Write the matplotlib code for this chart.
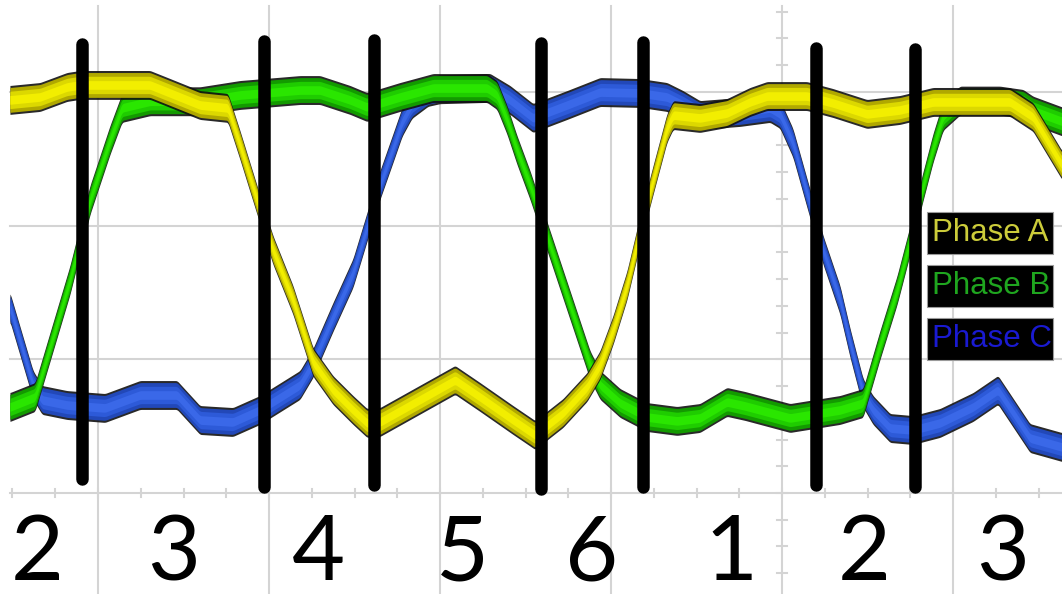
import numpy as np
import matplotlib
matplotlib.use("Agg")
import matplotlib.pyplot as plt

# ---- data (time in divisions, voltage in divisions) ----
phase_a_t = [-0.515, -0.339, -0.181, -0.105, 0.304, 0.421, 0.596, 0.760, 0.830, 0.930,
             1.023, 1.140, 1.257, 1.374, 1.491, 1.573, 1.649, 2.088, 2.234, 2.427,
             2.556, 2.719, 2.860, 2.936, 3.012, 3.094, 3.170, 3.246, 3.327, 3.363,
             3.520, 3.678, 3.813, 3.912, 4.146, 4.298, 4.497, 4.690, 4.883, 5.333,
             5.468, 5.637]
phase_a_v = [2.940, 2.962, 3.037, 3.052, 3.052, 2.992, 2.902, 2.880, 2.603, 2.191,
             1.818, 1.444, 0.980, 0.770, 0.621, 0.524, 0.531, 0.845, 0.718, 0.546,
             0.434, 0.598, 0.793, 0.957, 1.219, 1.556, 1.967, 2.341, 2.730, 2.827,
             2.805, 2.842, 2.925, 2.969, 2.969, 2.917, 2.835, 2.865, 2.925, 2.925,
             2.812, 2.453]

phase_b_t = [-0.515, -0.368, -0.164, -0.047, 0.070, 0.140, 0.304, 0.596, 0.696, 0.830,
             1.181, 1.298, 1.474, 1.573, 1.766, 1.959, 2.275, 2.333, 2.392, 2.450,
             2.526, 2.643, 2.760, 2.877, 2.936, 3.053, 3.211, 3.386, 3.520, 3.678,
             3.784, 4.047, 4.339, 4.474, 4.573, 4.673, 4.749, 4.819, 4.883, 4.942,
             5.041, 5.275, 5.410, 5.468, 5.637]
phase_b_v = [0.643, 0.718, 1.593, 2.191, 2.640, 2.880, 2.930, 2.930, 2.950, 2.977,
             3.014, 3.014, 2.940, 2.887, 2.962, 3.029, 3.029, 2.977, 2.790, 2.566,
             2.304, 1.855, 1.406, 0.957, 0.808, 0.673, 0.568, 0.539, 0.561, 0.681,
             0.651, 0.561, 0.621, 0.673, 1.107, 1.518, 1.892, 2.266, 2.580, 2.820,
             2.935, 2.935, 2.910, 2.860, 2.780]

phase_c_t = [-0.515, -0.380, -0.327, -0.181, 0.041, 0.246, 0.462, 0.596, 0.789, 0.947,
             1.181, 1.257, 1.374, 1.491, 1.573, 1.649, 1.725, 1.778, 1.836, 1.930,
             2.000, 2.292, 2.409, 2.544, 2.743, 2.936, 3.170, 3.327, 3.421, 3.520,
             3.754, 3.930, 3.988, 4.064, 4.146, 4.240, 4.339, 4.398, 4.474, 4.532,
             4.632, 4.766, 4.924, 5.117, 5.263, 5.450, 5.637]
phase_c_v = [1.391, 0.808, 0.696, 0.658, 0.636, 0.733, 0.733, 0.546, 0.531, 0.621,
             0.808, 0.972, 1.316, 1.645, 1.990, 2.304, 2.580, 2.775, 2.910, 3.000,
             3.020, 3.030, 2.940, 2.805, 2.902, 2.999, 2.992, 2.962, 2.902, 2.827,
             2.850, 2.880, 2.835, 2.618, 2.244, 1.818, 1.444, 1.122, 0.748, 0.621,
             0.486, 0.471, 0.524, 0.643, 0.770, 0.411, 0.344]

# commutation markers
bar_t = [-0.094, 0.971, 1.614, 2.591, 3.187, 4.199, 4.778]
bar_top = [3.358, 3.381, 3.388, 3.366, 3.373, 3.328, 3.321]
bar_bottom = [0.105, 0.045, 0.060, 0.030, 0.045, 0.060, 0.045]

# sector labels
sector_labels = ["2", "3", "4", "5", "6", "1", "2", "3"]
sector_t = [-0.357, 0.444, 1.287, 2.129, 2.889, 3.702, 4.480, 5.292]

legend_names = ["Phase A", "Phase B", "Phase C"]
legend_colors = ["#cccc3a", "#1fa51f", "#1a1ad0"]

# ---- figure ----
fig = plt.figure(figsize=(10.62, 5.94), dpi=100)
ax = fig.add_axes([0, 0, 1, 1])
XMIN, XMAX = -98 / 171, (1062 - 98) / 171
YMIN, YMAX = -(594 - 493) / 133.7, 493 / 133.7
ax.set_xlim(XMIN, XMAX)
ax.set_ylim(YMIN, YMAX)
ax.axis("off")

LEFT = -0.515
TOP = 3.64
grid_c = "#d4d4d4"
for gx in [0, 1, 2, 3, 4, 5]:
    ax.plot([gx, gx], [YMIN, TOP], color=grid_c, lw=1.5, zorder=1)
for gy in [0, 1, 2, 3]:
    ax.plot([LEFT, XMAX], [gy, gy], color=grid_c, lw=1.5, zorder=1)
for tx in np.arange(-0.5, 5.7, 0.25):
    ax.plot([tx, tx], [-0.032, 0.032], color=grid_c, lw=1.5, zorder=1)
for ty in np.arange(-0.6, 3.65, 0.2):
    ax.plot([4 - 0.03, 4 + 0.03], [ty, ty], color=grid_c, lw=1.5, zorder=1)

tt = np.linspace(LEFT, XMAX, 4000)


def smooth(y, n=13):
    k = np.ones(n) / n
    yp = np.pad(y, n // 2, mode="edge")
    return np.convolve(yp, k, mode="valid")


def trace(t, v, c_edge, c_mid, c_hi, z):
    y = smooth(np.interp(tt, t, v))
    h = 0.108
    ax.fill_between(tt, y - h, y + h, color="#111111", lw=0, zorder=z, alpha=0.9)
    ax.fill_between(tt, y - 0.86 * h, y + 0.86 * h, color=c_edge, lw=0, zorder=z)
    ax.fill_between(tt, y - 0.6 * h, y + 0.6 * h, color=c_mid, lw=0, zorder=z)
    ax.fill_between(tt, y - 0.3 * h, y + 0.3 * h, color=c_hi, lw=0, zorder=z)


trace(phase_c_t, phase_c_v, "#2248b8", "#2d5ad8", "#3a68e8", 2)
trace(phase_b_t, phase_b_v, "#139a00", "#1fcc00", "#2ae600", 3)
trace(phase_a_t, phase_a_v, "#b0a800", "#dcd800", "#f2ee00", 4)

for bx, b0, b1 in zip(bar_t, bar_bottom, bar_top):
    ax.plot([bx, bx], [b0, b1], color="black", lw=9, solid_capstyle="round", zorder=6)

for lab, sx in zip(sector_labels, sector_t):
    ax.text(sx, -0.651, lab, fontsize=66, family="Lato", ha="center", va="baseline",
            color="black", zorder=7)

box_x0, box_w = 4.848, 0.737
box_y0 = [1.788, 1.391, 0.995]
box_h = 0.314
for name, col, y0 in zip(legend_names, legend_colors, box_y0):
    ax.add_patch(plt.Rectangle((box_x0, y0), box_w, box_h, facecolor="black",
                               edgecolor="#9a9a9a", lw=0.8, zorder=8))
    ax.text(box_x0 + 0.03, y0 + box_h / 2, name, fontsize=22.5, family="Liberation Sans",
            color=col, ha="left", va="center", zorder=9)

fig.savefig("out.png", dpi=100, facecolor="white")
